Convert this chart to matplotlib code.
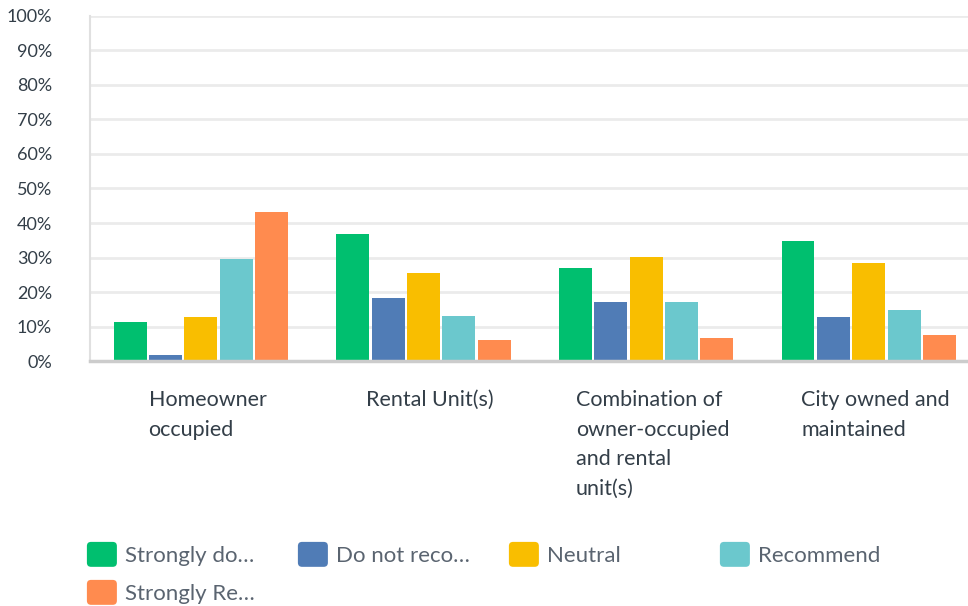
#!/usr/bin/env python3
# -*- coding: utf-8 -*-

import numpy as np
import matplotlib
matplotlib.use('Agg')
import matplotlib.pyplot as plt
from matplotlib.patches import Patch, FancyBboxPatch
from matplotlib.legend_handler import HandlerPatch
from matplotlib.ticker import FuncFormatter

categories = ['Homeowner\noccupied', 'Rental Unit(s)',
              'Combination of\nowner-occupied\nand rental\nunit(s)',
              'City owned and\nmaintained']
series = ['Strongly do…', 'Do not reco…', 'Neutral', 'Recommend', 'Strongly Re…']
strongly_do_not = [11.2, 36.7, 27.1, 34.9]
do_not_recommend = [1.9, 18.2, 17.0, 12.9]
neutral = [12.9, 25.4, 30.3, 28.5]
recommend = [29.7, 13.0, 17.0, 14.9]
strongly_recommend = [43.3, 6.1, 6.6, 7.7]
colors = ['#00bf6f', '#507cb6', '#f9be00', '#6bc8cd', '#ff8b4f']

values = [strongly_do_not, do_not_recommend, neutral, recommend, strongly_recommend]

plt.rcParams['font.family'] = ['Lato', 'DejaVu Sans']
text_color = '#333e48'

fig = plt.figure(figsize=(9.68, 6.06), dpi=100)
ax = fig.add_axes([0.0925, 0.404, 0.920, 0.570])

x = np.arange(len(categories))
pitch = 0.159
width = 0.148
for i, (vals, col) in enumerate(zip(values, colors)):
    ax.bar(x + (i - 2) * pitch, vals, width=width, color=col, zorder=3)

ax.set_xlim(-0.5, len(categories) - 0.5)
ax.set_ylim(0, 100)
ax.set_yticks(range(0, 101, 10))
ax.yaxis.set_major_formatter(FuncFormatter(lambda v, p: '%d%%' % v))
ax.tick_params(axis='y', length=0, pad=27, labelsize=13, labelcolor=text_color)
ax.set_xticks([])
ax.grid(axis='y', color='#ebebeb', linewidth=2, zorder=0)

for s in ['top', 'right']:
    ax.spines[s].set_visible(False)
ax.spines['left'].set_color('#e0e0e0')
ax.spines['left'].set_linewidth(1.5)
ax.spines['bottom'].set_color('#cccccc')
ax.spines['bottom'].set_linewidth(2.5)
ax.spines['bottom'].set_zorder(4)

# category labels under each group
for i, lab in enumerate(categories):
    ax.annotate(lab, xy=(i + 0.03, 0), xycoords=('data', 'axes fraction'),
                xytext=(0, -29), textcoords='offset pixels',
                ha='center', va='top', multialignment='left',
                fontsize=15.5, color=text_color, linespacing=1.6)


class RoundHandler(HandlerPatch):
    def create_artists(self, legend, orig_handle, xdescent, ydescent,
                       width, height, fontsize, trans):
        p = FancyBboxPatch((-xdescent, -ydescent), width, height,
                           boxstyle='round,pad=0,rounding_size=3',
                           fc=orig_handle.get_facecolor(), ec='none',
                           transform=trans)
        return [p]


# legend entries laid out in a fixed grid
for i, (name, col) in enumerate(zip(series, colors)):
    row, c = divmod(i, 4)
    lx = 78 / 968 + c * 211 / 968
    ly = 1 - (533 + row * 38) / 606
    fig.legend(handles=[Patch(facecolor=col)], labels=[name],
               loc='upper left', bbox_to_anchor=(lx, ly), frameon=False,
               fontsize=16, labelcolor='#5a6470',
               handler_map={Patch: RoundHandler()},
               handlelength=1.35, handleheight=1.35, handletextpad=0.35,
               borderaxespad=0)

fig.savefig('out.png', dpi=100)
